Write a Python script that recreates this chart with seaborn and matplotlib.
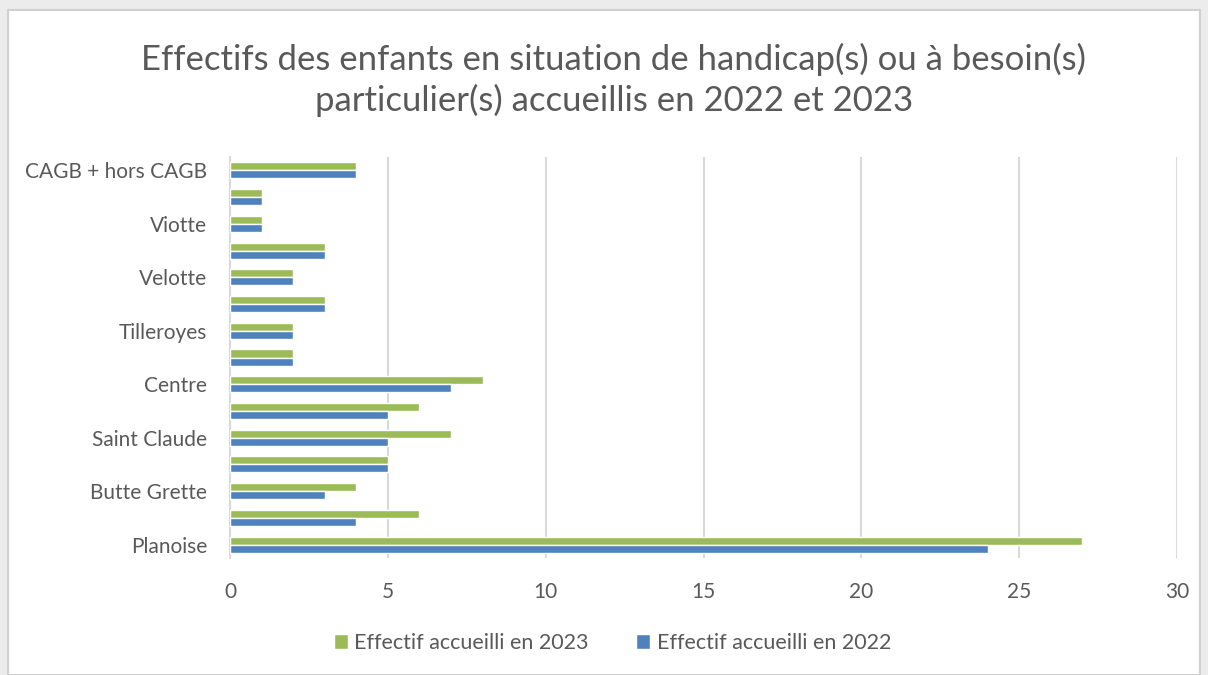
import pandas as pd
import numpy as np
import seaborn as sns
import matplotlib.pyplot as plt
from matplotlib.patches import Rectangle

# categories top -> bottom (Excel shows only every other label)
quartiers = ["CAGB + hors CAGB", "q14", "Viotte", "q12", "Velotte", "q10",
             "Tilleroyes", "q8", "Centre", "q6", "Saint Claude", "q4",
             "Butte Grette", "q2", "Planoise"]
tick_labels = ["CAGB + hors CAGB", "", "Viotte", "", "Velotte", "",
               "Tilleroyes", "", "Centre", "", "Saint Claude", "",
               "Butte Grette", "", "Planoise"]
eff_2023 = [4, 1, 1, 3, 2, 3, 2, 2, 8, 6, 7, 5, 4, 6, 27]
eff_2022 = [4, 1, 1, 3, 2, 3, 2, 2, 7, 5, 5, 5, 3, 4, 24]
series = ["Effectif accueilli en 2023", "Effectif accueilli en 2022"]
x_ticks = [0, 5, 10, 15, 20, 25, 30]

df = pd.DataFrame({
    "quartier": quartiers * 2,
    "effectif": eff_2023 + eff_2022,
    "serie": [series[0]] * len(quartiers) + [series[1]] * len(quartiers),
})

sns.set_style("white")
plt.rcParams["font.family"] = ["Lato", "DejaVu Sans"]
txt = "#595959"

fig = plt.figure(figsize=(12.08, 6.75), dpi=100)
fig.patch.set_facecolor("#ececec")
fig.patches.append(Rectangle((8 / 1208, 0), 1192 / 1208, 1 - 10 / 675,
                             transform=fig.transFigure, facecolor="white",
                             edgecolor="#d0d0d0", lw=1.5, zorder=-10))

ax = fig.add_axes([230 / 1208, 1 - 558 / 675, 947 / 1208, 401 / 675])
sns.barplot(data=df, y="quartier", x="effectif", hue="serie", order=quartiers,
            hue_order=series, palette=["#9BBB59", "#4F81BD"], width=0.6,
            saturation=1, orient="h", ax=ax, zorder=3)

ax.set_xlim(0, 30)
ax.set_xticks(x_ticks)
ax.set_yticks(range(len(quartiers)))
ax.set_yticklabels(tick_labels)
ax.set_xlabel("")
ax.set_ylabel("")
ax.grid(axis="x", color="#d9d9d9", lw=1.5, zorder=0)
ax.set_axisbelow(True)
for s in ["top", "right", "bottom"]:
    ax.spines[s].set_visible(False)
ax.spines["left"].set_color("#d9d9d9")
ax.spines["left"].set_linewidth(1.5)
ax.tick_params(axis="both", length=0, labelsize=15, colors=txt)
ax.tick_params(axis="x", pad=17)
ax.tick_params(axis="y", pad=16.5)
ax.set_facecolor("none")

ax.legend(loc="center", bbox_to_anchor=(0.404, -0.212), ncol=2,
          frameon=False, fontsize=15.5, labelcolor=txt, handlelength=0.65,
          handleheight=0.65, handletextpad=0.3, columnspacing=2.2)

fig.text(0.508, 1 - 80 / 675,
         "Effectifs des enfants en situation de handicap(s) ou à besoin(s)\nparticulier(s) accueillis en 2022 et 2023",
         ha="center", va="center", fontsize=25, color=txt, linespacing=1.3)

fig.savefig("out.png", dpi=100, facecolor=fig.get_facecolor())
